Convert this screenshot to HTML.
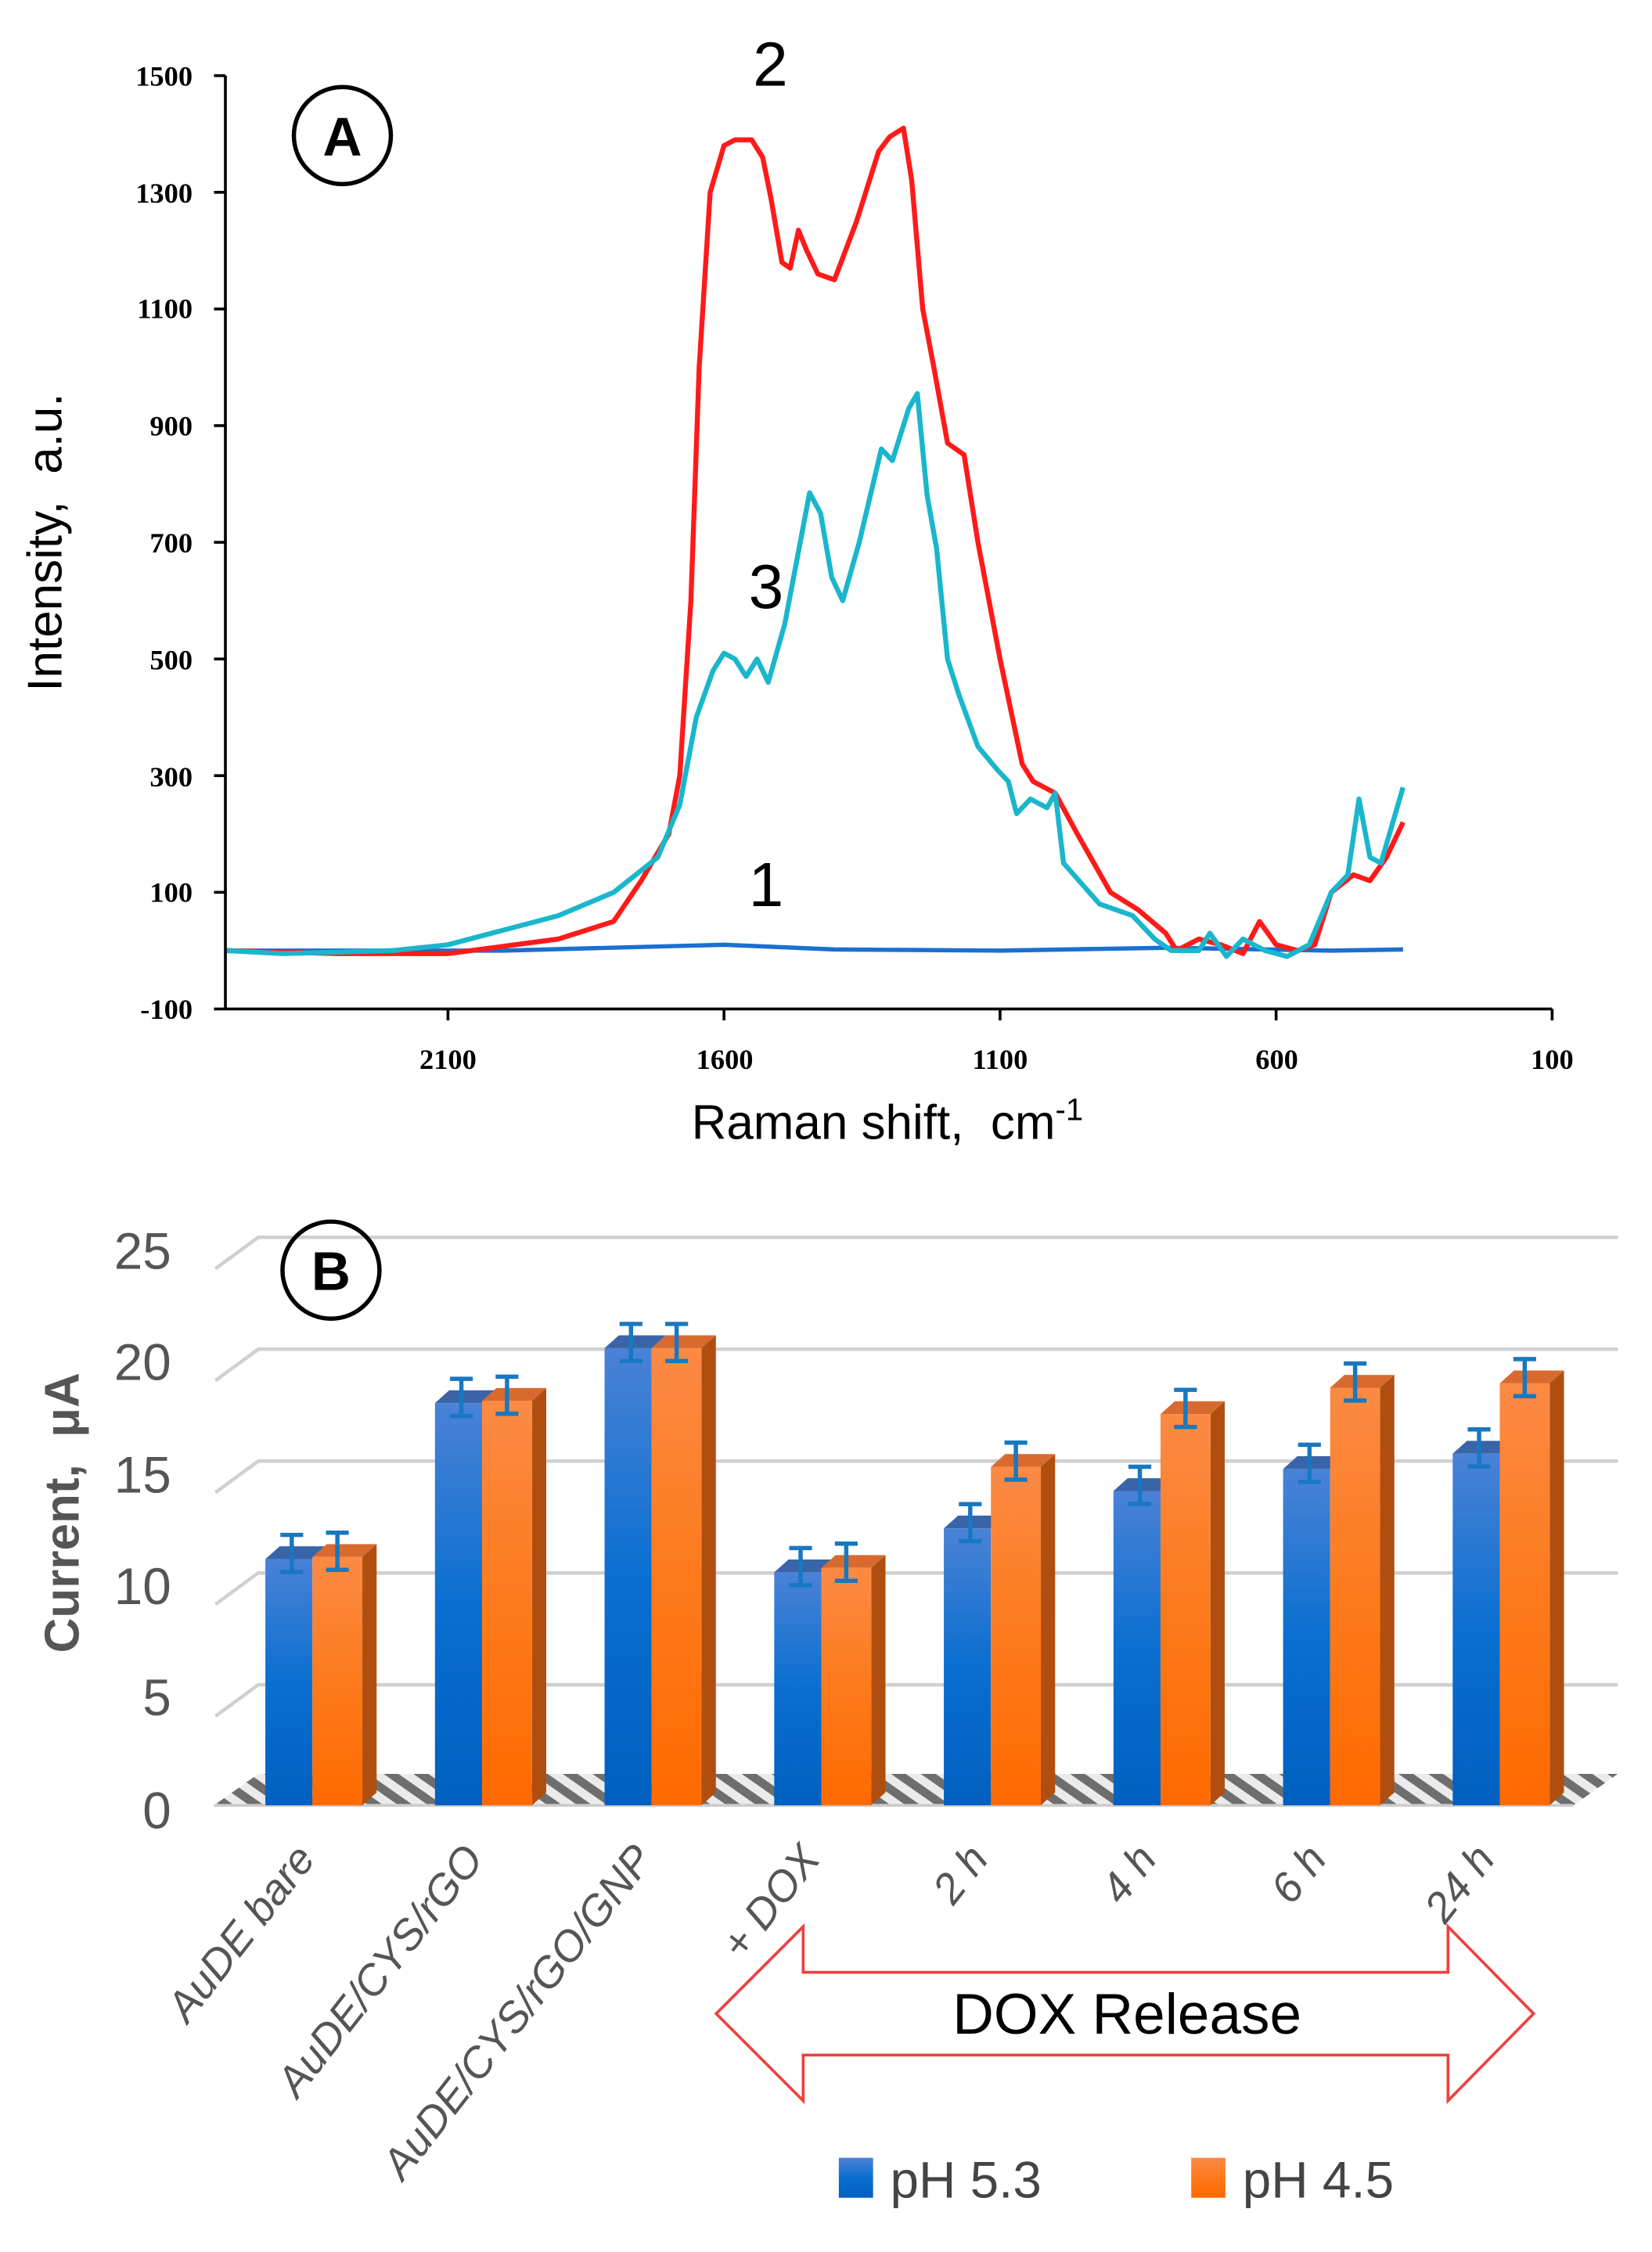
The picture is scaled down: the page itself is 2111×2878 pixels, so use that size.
<!DOCTYPE html>
<html><head><meta charset="utf-8"><style>
html,body{margin:0;padding:0;background:#fff}
svg{display:block}
</style></head><body>
<svg id="s" width="2111" height="2878" viewBox="0 0 1158 1578" preserveAspectRatio="none" xmlns="http://www.w3.org/2000/svg" font-family="Liberation Sans, sans-serif">
<defs>
<linearGradient id="gb" x1="0" y1="0" x2="0" y2="1"><stop offset="0" stop-color="#4a82d6"/><stop offset="0.5" stop-color="#0a6fd0"/><stop offset="1" stop-color="#0060c0"/></linearGradient>
<linearGradient id="go" x1="0" y1="0" x2="0" y2="1"><stop offset="0" stop-color="#fb8a44"/><stop offset="0.5" stop-color="#fd7a1c"/><stop offset="1" stop-color="#ff6a00"/></linearGradient>
<pattern id="hatch" width="12" height="12" patternUnits="userSpaceOnUse" patternTransform="rotate(-55)"><rect width="12" height="12" fill="#e8e8e8"/><rect width="6" height="12" fill="#555"/></pattern>
</defs>
<!-- Panel A -->
<g stroke="#000" stroke-width="2" fill="none">
<line x1="158" y1="53" x2="158" y2="707"/>
<line x1="158" y1="707" x2="1088" y2="707"/>
</g>
<g id="ticksA"></g>
<g font-weight="bold" font-size="20" text-anchor="end" font-family="Liberation Serif, serif">
<text x="135" y="60">1500</text><text x="135" y="142">1300</text><text x="135" y="223">1100</text><text x="135" y="305">900</text><text x="135" y="387">700</text><text x="135" y="469">500</text><text x="135" y="551">300</text><text x="135" y="632">100</text><text x="135" y="714">-100</text>
</g>
<g font-weight="bold" font-size="20" text-anchor="middle" font-family="Liberation Serif, serif">
<text x="314" y="749">2100</text><text x="508" y="749">1600</text><text x="701" y="749">1100</text><text x="895" y="749">600</text><text x="1088" y="749">100</text>
</g>
<text x="43" y="380" font-size="34" text-anchor="middle" transform="rotate(-90 43 380)">Intensity,&#160;&#160;a.u.</text>
<text x="622" y="798" font-size="34" text-anchor="middle">Raman shift,&#160;&#160;cm<tspan font-size="22" dy="-13">-1</tspan></text>
<circle cx="240" cy="95" r="34" fill="none" stroke="#000" stroke-width="3"/>
<text x="240" y="109" font-size="38" font-weight="bold" text-anchor="middle">A</text>
<text x="540" y="60" font-size="44" text-anchor="middle">2</text>
<text x="537" y="426" font-size="44" text-anchor="middle">3</text>
<text x="537" y="635" font-size="44" text-anchor="middle">1</text>
<path id="pb" fill="none" stroke="#1a70d0" stroke-width="3"/>
<path id="pr" fill="none" stroke="#ff1a1a" stroke-width="3.5" stroke-linejoin="round"/>
<path id="pc" fill="none" stroke="#1ab6cc" stroke-width="3.5" stroke-linejoin="round"/>
<!-- Panel B -->
<g id="grid" stroke="#d0d0d0" stroke-width="2.5" fill="none"></g>
<polygon points="150,1265 181,1243 1134,1243 1103,1265" fill="url(#hatch)" opacity="0.85"/>
<line x1="150" y1="1265" x2="1103" y2="1265" stroke="#ccc" stroke-width="2"/>
<g font-size="36" fill="#555" text-anchor="end">
<text x="120" y="889">25</text><text x="120" y="967">20</text><text x="120" y="1046">15</text><text x="120" y="1124">10</text><text x="120" y="1202">5</text><text x="120" y="1281">0</text>
</g>
<text x="55" y="1060" font-size="34" font-weight="bold" fill="#555" text-anchor="middle" transform="rotate(-90 55 1060)">Current,&#160;&#160;μA</text>
<circle cx="232" cy="890" r="34" fill="none" stroke="#000" stroke-width="3"/>
<text x="232" y="904" font-size="38" font-weight="bold" text-anchor="middle">B</text>
<g id="bars"></g>
<g font-size="30" fill="#555" font-style="italic" text-anchor="end">
<text transform="translate(222,1303) rotate(-52)">AuDE bare</text>
<text transform="translate(340,1303) rotate(-52)">AuDE/CYS/rGO</text>
<text transform="translate(459,1303) rotate(-52)">AuDE/CYS/rGO/GNP</text>
<text transform="translate(576,1303) rotate(-52)">+ DOX</text>
<text transform="translate(694,1303) rotate(-52)">2 h</text>
<text transform="translate(812,1303) rotate(-52)">4 h</text>
<text transform="translate(931,1303) rotate(-52)">6 h</text>
<text transform="translate(1049,1303) rotate(-52)">24 h</text>
</g>
<polygon points="502,1411 563,1350 563,1382 1015,1382 1015,1350 1075,1411 1015,1472 1015,1440 563,1440 563,1472" fill="#fff" stroke="#f04040" stroke-width="2"/>
<text x="790" y="1425" font-size="40" text-anchor="middle">DOX Release</text>
<rect x="588" y="1512" width="24" height="28" fill="url(#gb)"/>
<text x="624" y="1540" font-size="36" fill="#444">pH 5.3</text>
<rect x="835" y="1512" width="24" height="28" fill="url(#go)"/>
<text x="871" y="1540" font-size="36" fill="#444">pH 4.5</text>
</svg>
<script>
(function(){
function X(w){return 314+(2100-w)*0.387;}
function Y(v){return 707-(v+100)*0.40875;}
function P(a){var s="";for(var i=0;i<a.length;i+=2){s+=(i?"L":"M")+X(a[i]).toFixed(1)+","+Y(a[i+1]).toFixed(1);}return s;}
var red=[2500,0,2300,-5,2100,-5,1900,20,1800,50,1750,120,1700,200,1680,300,1660,600,1645,1000,1625,1300,1600,1380,1580,1390,1550,1390,1530,1360,1515,1290,1495,1180,1480,1170,1465,1235,1450,1200,1430,1160,1400,1150,1360,1250,1320,1370,1300,1395,1275,1410,1260,1320,1240,1100,1220,1000,1195,870,1165,850,1140,700,1100,500,1060,320,1040,290,1000,270,960,200,900,100,850,70,800,30,780,0,740,20,700,10,660,-5,630,50,600,10,560,0,530,10,500,100,460,130,430,120,400,160,370,220];
var cy=[2500,0,2400,-5,2200,0,2100,10,1900,60,1800,100,1720,160,1680,250,1650,400,1620,480,1600,510,1580,500,1560,470,1540,500,1520,460,1490,560,1445,785,1425,750,1405,640,1385,600,1355,700,1315,860,1295,840,1265,930,1250,955,1232,780,1215,690,1195,500,1175,440,1140,350,1105,310,1085,290,1070,235,1045,260,1015,245,1000,270,985,150,920,80,860,60,820,20,790,0,740,0,720,30,690,-10,660,20,620,0,580,-10,540,10,500,100,470,130,450,260,430,160,410,150,370,280];
var bl=[2500,0,2000,0,1600,10,1400,2,1100,0,800,5,500,0,370,2];
document.getElementById("pr").setAttribute("d",P(red));
document.getElementById("pc").setAttribute("d",P(cy));
document.getElementById("pb").setAttribute("d",P(bl));
var t=document.getElementById("ticksA");
var h="";
for(var v=-100;v<=1500;v+=200){h+='<line x1="150" y1="'+Y(v)+'" x2="158" y2="'+Y(v)+'" stroke="#000" stroke-width="2"/>';}
for(var w=2100;w>=100;w-=500){h+='<line x1="'+X(w)+'" y1="707" x2="'+X(w)+'" y2="715" stroke="#000" stroke-width="2"/>';}
t.innerHTML=h;
var g=document.getElementById("grid");h="";
for(var k=1;k<=5;k++){var y=1251-k*5*15.68+8;h+='<polyline points="151,'+(y+22)+' 181,'+y+' 1134,'+y+'"/>';}
g.innerHTML=h;
var vals=[[11.2,11.3],[18.3,18.4],[20.8,20.8],[10.6,10.8],[12.6,15.4],[14.3,17.8],[15.3,19],[16,19.2]];
var b=document.getElementById("bars");h="";
var floor=1265,sc=15.4;
for(var i=0;i<8;i++){
 var x0=186+i*118.9;var w1=33,w2=35,d=10,dy=9;
 var tb=floor-vals[i][0]*sc,to=floor-vals[i][1]*sc;
 h+='<polygon points="'+x0+','+tb+' '+(x0+d)+','+(tb-dy)+' '+(x0+w1+d)+','+(tb-dy)+' '+(x0+w1)+','+tb+'" fill="#3a64a8"/>';
 h+='<rect x="'+x0+'" y="'+tb+'" width="'+w1+'" height="'+(floor-tb)+'" fill="url(#gb)"/>';
 var x1=x0+w1;
 h+='<polygon points="'+x1+','+to+' '+(x1+d)+','+(to-dy)+' '+(x1+w2+d)+','+(to-dy)+' '+(x1+w2)+','+to+'" fill="#d86a30"/>';
 h+='<polygon points="'+(x1+w2)+','+to+' '+(x1+w2+d)+','+(to-dy)+' '+(x1+w2+d)+','+(floor-dy)+' '+(x1+w2)+','+floor+'" fill="#b04e10"/>';
 h+='<rect x="'+x1+'" y="'+to+'" width="'+w2+'" height="'+(floor-to)+'" fill="url(#go)"/>';
 var cs=[[x0+w1/2+2,tb-4],[x1+w2/2,to-4]];
 for(var j=0;j<2;j++){var cx=cs[j][0],yy=cs[j][1];h+='<g stroke="#1878c0" stroke-width="3"><line x1="'+cx+'" y1="'+(yy-13)+'" x2="'+cx+'" y2="'+(yy+13)+'"/><line x1="'+(cx-8)+'" y1="'+(yy-13)+'" x2="'+(cx+8)+'" y2="'+(yy-13)+'"/><line x1="'+(cx-8)+'" y1="'+(yy+13)+'" x2="'+(cx+8)+'" y2="'+(yy+13)+'"/></g>';}
}
b.innerHTML=h;
})();
</script>
</body></html>
